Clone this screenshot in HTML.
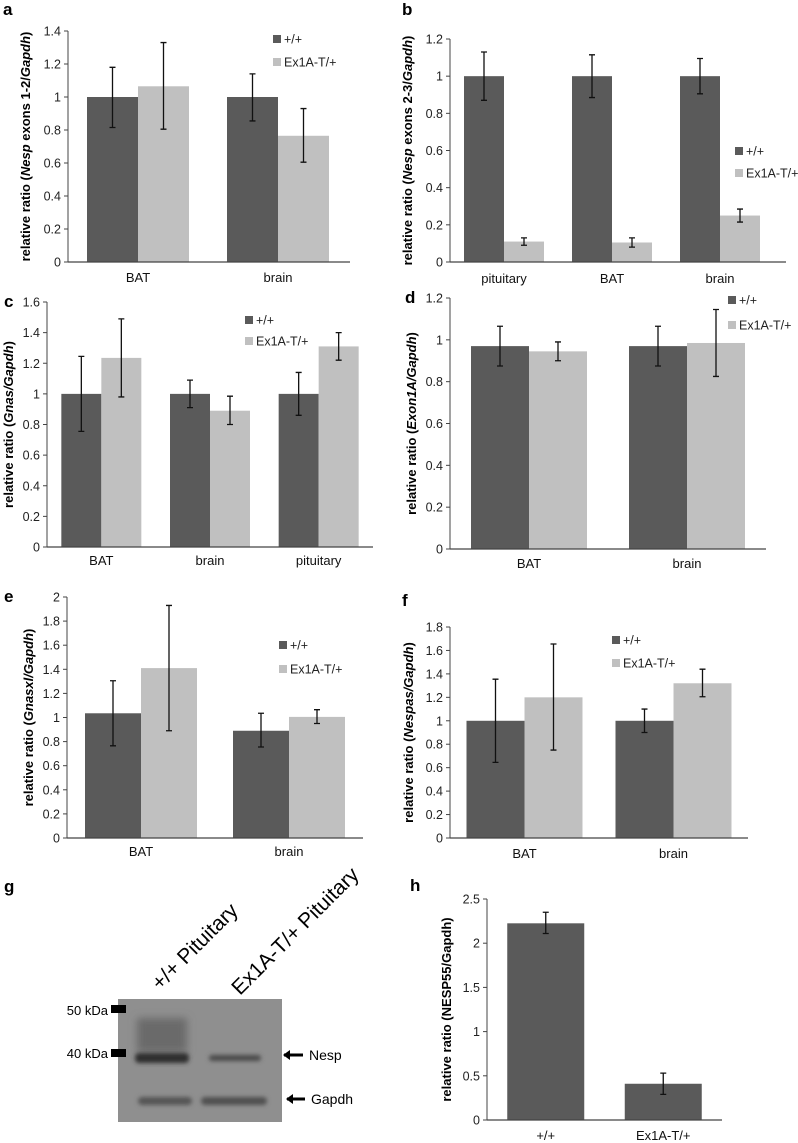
<!DOCTYPE html>
<html><head><meta charset="utf-8">
<style>
html,body{margin:0;padding:0;background:#fff;}
svg{display:block;font-family:"Liberation Sans",Arial,sans-serif;}
</style></head>
<body>
<svg id="fig" width="798" height="1143" viewBox="0 0 798 1143" xmlns="http://www.w3.org/2000/svg">
<defs>
<filter id="blur2" x="-20%" y="-50%" width="140%" height="200%"><feGaussianBlur stdDeviation="2"/></filter>
<filter id="blur4" x="-20%" y="-50%" width="140%" height="200%"><feGaussianBlur stdDeviation="4"/></filter>
</defs>
<g>
<text x="4" y="892" font-size="17" font-weight="bold">g</text>
<text x="160" y="991" font-size="21" transform="rotate(-45 160 991)">+/+ Pituitary</text>
<text x="240" y="996" font-size="21" transform="rotate(-45 240 996)">Ex1A-T/+ Pituitary</text>
<rect x="118" y="999" width="164" height="123" fill="#8f8f8f"/>
<g filter="url(#blur4)">
<rect x="137" y="1018" width="50" height="34" fill="#6a6a6a"/>
</g>
<g filter="url(#blur2)">
<rect x="135" y="1053" width="54" height="10" rx="4" fill="#2e2e2e"/>
<rect x="209" y="1055" width="52" height="6" rx="3" fill="#4a4a4a"/>
<rect x="138" y="1097" width="54" height="8" rx="4" fill="#555"/>
<rect x="201" y="1097" width="66" height="8" rx="4" fill="#505050"/>
</g>
<text x="108" y="1015" font-size="13" text-anchor="end">50 kDa</text>
<rect x="111" y="1005" width="15" height="8" fill="#000"/>
<text x="108" y="1058" font-size="13" text-anchor="end">40 kDa</text>
<rect x="111" y="1049" width="15" height="8" fill="#000"/>
<path d="M284 1055 L303 1055" stroke="#000" stroke-width="3"/><path d="M283 1055 L290 1050 L290 1060 Z" fill="#000"/>
<text x="309" y="1060" font-size="14">Nesp</text>
<path d="M287 1099 L305 1099" stroke="#000" stroke-width="3"/><path d="M286 1099 L293 1094 L293 1104 Z" fill="#000"/>
<text x="311" y="1104" font-size="14">Gapdh</text>
</g>
</svg>
<script>
const aCats=["BAT","brain"];
const aWT=[1.0,1.0];        const aWTlo=[0.815,0.855]; const aWThi=[1.18,1.14];
const aMut=[1.065,0.765];   const aMutlo=[0.805,0.605]; const aMuthi=[1.33,0.93];
const aTicks=["0","0.2","0.4","0.6","0.8","1","1.2","1.4"];

const bCats=["pituitary","BAT","brain"];
const bWT=[1.0,1.0,1.0];    const bWTlo=[0.87,0.885,0.905]; const bWThi=[1.13,1.115,1.095];
const bMut=[0.11,0.105,0.25]; const bMutlo=[0.09,0.08,0.215]; const bMuthi=[0.13,0.13,0.285];
const bTicks=["0","0.2","0.4","0.6","0.8","1","1.2"];

const cCats=["BAT","brain","pituitary"];
const cWT=[1.0,1.0,1.0];    const cWTlo=[0.755,0.91,0.86]; const cWThi=[1.245,1.09,1.14];
const cMut=[1.235,0.89,1.31]; const cMutlo=[0.98,0.80,1.22]; const cMuthi=[1.49,0.985,1.40];
const cTicks=["0","0.2","0.4","0.6","0.8","1","1.2","1.4","1.6"];

const dCats=["BAT","brain"];
const dWT=[0.97,0.97];      const dWTlo=[0.875,0.875]; const dWThi=[1.065,1.065];
const dMut=[0.945,0.985];   const dMutlo=[0.90,0.825]; const dMuthi=[0.99,1.145];
const dTicks=["0","0.2","0.4","0.6","0.8","1","1.2"];

const eCats=["BAT","brain"];
const eWT=[1.035,0.89];     const eWTlo=[0.765,0.755]; const eWThi=[1.305,1.035];
const eMut=[1.41,1.005];    const eMutlo=[0.89,0.95]; const eMuthi=[1.93,1.065];
const eTicks=["0","0.2","0.4","0.6","0.8","1","1.2","1.4","1.6","1.8","2"];

const fCats=["BAT","brain"];
const fWT=[1.0,1.0];        const fWTlo=[0.645,0.90]; const fWThi=[1.355,1.10];
const fMut=[1.20,1.32];     const fMutlo=[0.75,1.205]; const fMuthi=[1.655,1.44];
const fTicks=["0","0.2","0.4","0.6","0.8","1","1.2","1.4","1.6","1.8"];

const hCats=["+/+","Ex1A-T/+"];
const hVals=[2.225,0.41];   const hLo=[2.11,0.29]; const hHi=[2.35,0.53];
const hTicks=["0","0.5","1","1.5","2","2.5"];

const NS="http://www.w3.org/2000/svg";
const svg=document.getElementById('fig');
const DARK="#5a5a5a", LIGHT="#c0c0c0";
function mk(tag,attrs,parent){const e=document.createElementNS(NS,tag);for(const k in attrs)e.setAttribute(k,attrs[k]);(parent||svg).appendChild(e);return e;}

function chart(p){
  const g=mk('g',{});
  
  
  const ymax=parseFloat(p.ticks[p.ticks.length-1]);
  const ys=v=>p.y0-(v/ymax)*(p.y0-p.ytop);
  const cw=(p.xc1-p.x0)/p.cats.length;
  const cx=i=>p.x0+cw*(i+0.5);
  const lt=mk('text',{x:p.lx,y:p.ly,'font-size':17,'font-weight':'bold'},g);lt.textContent=p.id;
  
  
  p.ticks.forEach(t=>{
    const v=parseFloat(t),y=ys(v);
    mk('line',{x1:p.x0-4,x2:p.x0,y1:y,y2:y,stroke:'#444','stroke-width':1},g);
    const tx=mk('text',{x:p.x0-7,y:y+4.5,'font-size':12.5,'text-anchor':'end',fill:'#222'},g);tx.textContent=t;
    
    
  });
  const series=p.series;
  series.forEach((s,si)=>{
    p.cats.forEach((c,i)=>{
      const bw=p.bw, n=series.length;
      const x=cx(i)-bw*n/2+bw*si;
      const r=mk('rect',{x:x,y:ys(s.v[i]),width:bw,height:p.y0-ys(s.v[i]),fill:s.col},g);
      
      
      const mx=x+bw/2;
      const eb=mk('path',{d:`M${mx} ${ys(s.lo[i])}V${ys(s.hi[i])}M${mx-3} ${ys(s.lo[i])}H${mx+3}M${mx-3} ${ys(s.hi[i])}H${mx+3}`,stroke:'#111','stroke-width':1.3,fill:'none'},g);
      
      
    });
  });
  mk('line',{x1:p.x0,x2:p.x0,y1:p.ytop,y2:p.y0,stroke:'#444','stroke-width':1},g);
  const xa=mk('line',{x1:p.x0,x2:p.x1,y1:p.y0,y2:p.y0,stroke:'#444','stroke-width':1.3},g);
  
  
  p.cats.forEach((c,i)=>{
    const t=mk('text',{x:cx(i),y:p.xly,'font-size':13,'text-anchor':'middle',fill:'#111'},g);t.textContent=c;
    
    
  });
  const ym=(p.ytop+p.y0)/2;
  const tt=mk('text',{x:p.tx,y:ym,'font-size':p.tfs||13,'font-weight':'bold','text-anchor':'middle',transform:`rotate(-90 ${p.tx} ${ym})`},g);
  
  
  p.title.forEach(seg=>{const ts=mk('tspan',seg[1]?{'font-style':'italic'}:{},tt);ts.textContent=seg[0];});
  if(p.leg){
    series.forEach((s,si)=>{
      const y=p.leg[1]+si*p.leg[2];
      mk('rect',{x:p.leg[0],y:y-4,width:8,height:8,fill:s.col},g);
      const lt2=mk('text',{x:p.leg[0]+11,y:y+4.5,'font-size':12.5,fill:'#222'},g);lt2.textContent=s.name;
      
      
    });
  }
}
function two(v1,l1,h1,v2,l2,h2){return [{key:'wt',name:'+/+',col:DARK,v:v1,lo:l1,hi:h1},{key:'mut',name:'Ex1A-T/+',col:LIGHT,v:v2,lo:l2,hi:h2}];}

chart({id:'a',cats:aCats,ticks:aTicks,series:two(aWT,aWTlo,aWThi,aMut,aMutlo,aMuthi),x0:68,x1:350,xc1:348,ytop:31,y0:262,bw:51,xly:282,tx:30,lx:3,ly:15,leg:[273,39,23],title:[["relative ratio ("],["Nesp",1],[" exons 1-2/"],["Gapdh",1],[")"]]});
chart({id:'b',cats:bCats,ticks:bTicks,series:two(bWT,bWTlo,bWThi,bMut,bMutlo,bMuthi),x0:450,x1:786,xc1:774,ytop:39,y0:262,bw:40,xly:283,tx:412,lx:402,ly:15,leg:[735,151,22],title:[["relative ratio ("],["Nesp",1],[" exons 2-3/"],["Gapdh",1],[")"]]});
chart({id:'c',cats:cCats,ticks:cTicks,series:two(cWT,cWTlo,cWThi,cMut,cMutlo,cMuthi),x0:47,x1:373,xc1:373,ytop:302,y0:547,bw:40,xly:565,tx:13,lx:4,ly:307,leg:[245,320,21],title:[["relative ratio ("],["Gnas/Gapdh",1],[")"]]});
chart({id:'d',cats:dCats,ticks:dTicks,series:two(dWT,dWTlo,dWThi,dMut,dMutlo,dMuthi),x0:450,x1:766,xc1:766,ytop:298,y0:549,bw:58,xly:568,tx:416,lx:405,ly:303,leg:[728,300,25],title:[["relative ratio ("],["Exon1A/Gapdh",1],[")"]]});
chart({id:'e',cats:eCats,ticks:eTicks,series:two(eWT,eWTlo,eWThi,eMut,eMutlo,eMuthi),x0:67,x1:363,xc1:363,ytop:597,y0:838,bw:56,xly:856,tx:33,lx:4,ly:602,leg:[279,645,24],title:[["relative ratio ("],["Gnasxl/Gapdh",1],[")"]]});
chart({id:'f',cats:fCats,ticks:fTicks,series:two(fWT,fWTlo,fWThi,fMut,fMutlo,fMuthi),x0:450,x1:748,xc1:748,ytop:627,y0:838,bw:58,xly:858,tx:413,lx:402,ly:606,leg:[612,640,23],title:[["relative ratio ("],["Nespas/Gapdh",1],[")"]]});
chart({id:'h',cats:hCats,ticks:hTicks,series:[{key:'nesp55',name:'',col:DARK,v:hVals,lo:hLo,hi:hHi}],x0:487,x1:722,xc1:722,ytop:899,y0:1120,bw:77,xly:1140,tx:451,lx:410,ly:891,leg:null,title:[["relative ratio (NESP55/Gapdh)"]]});
</script>
</body></html>
